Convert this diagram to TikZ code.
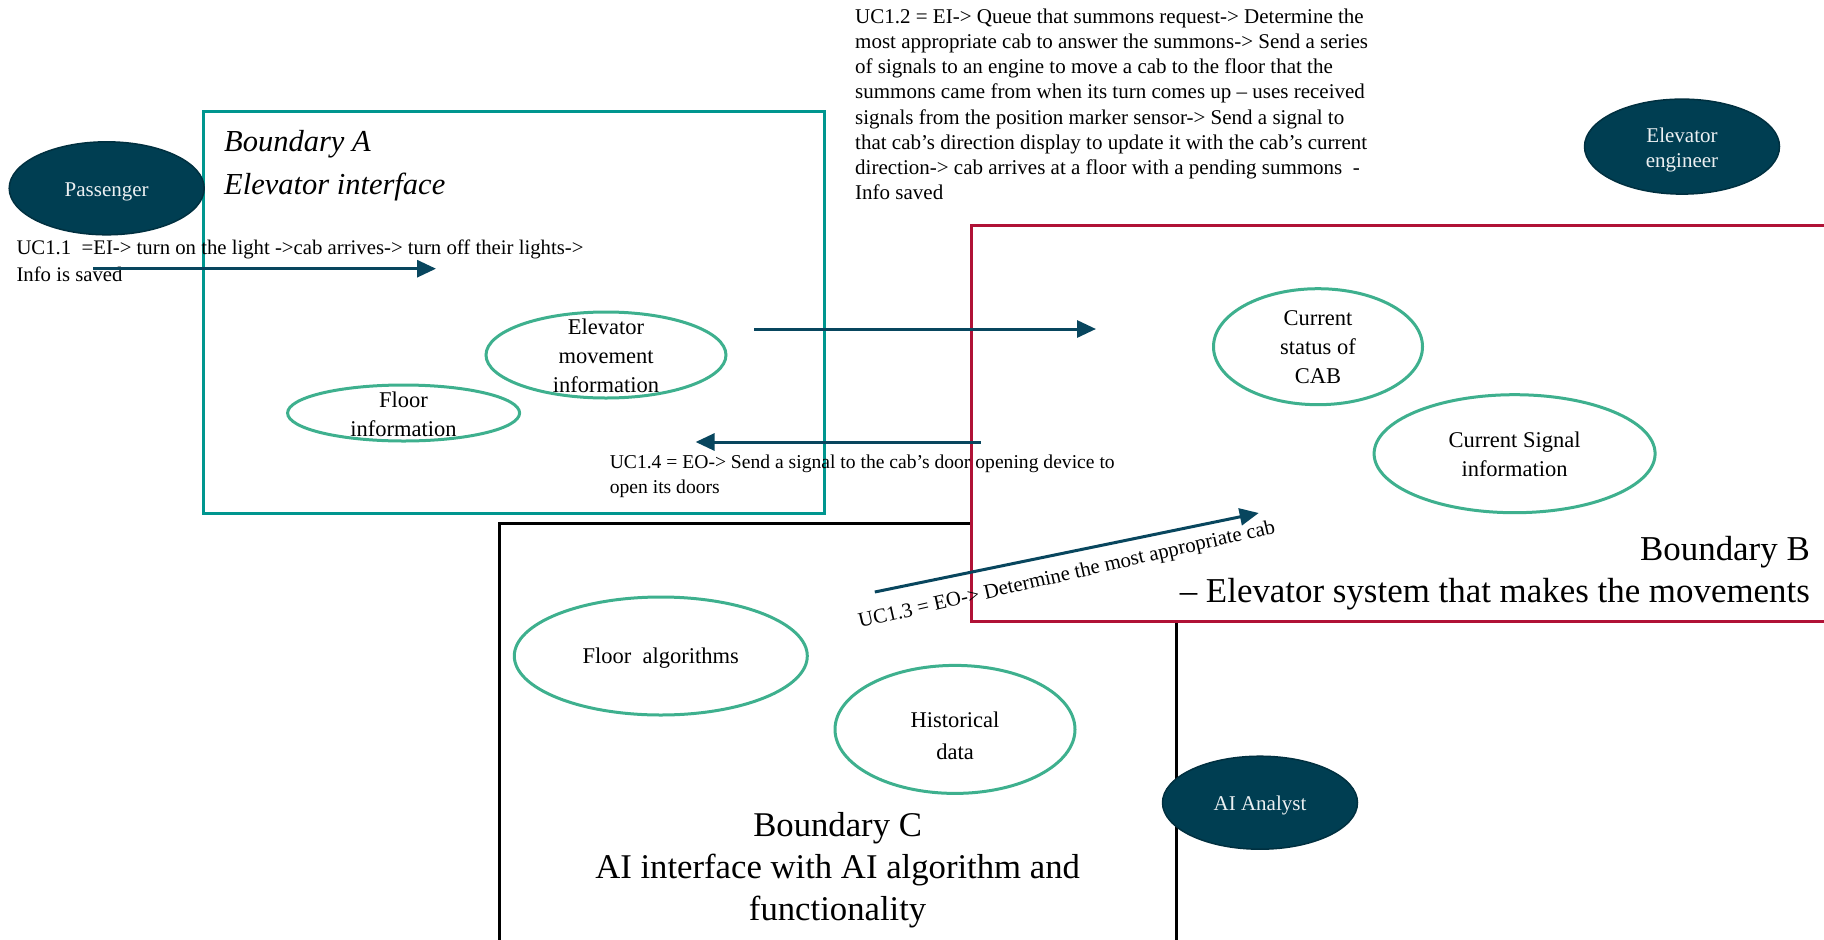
\documentclass[tikz,border=0pt]{standalone}
\usepackage{fontspec}
\setmainfont{Liberation Serif}
\usetikzlibrary{shapes.geometric,arrows.meta}

\definecolor{actorfill}{RGB}{0,62,82}
\definecolor{actorline}{RGB}{0,48,64}
\definecolor{actortext}{RGB}{236,240,242}
\definecolor{bndA}{RGB}{0,150,143}
\definecolor{bndB}{RGB}{176,18,54}
\definecolor{ucgreen}{RGB}{62,176,142}
\definecolor{flowcol}{RGB}{8,70,94}

\newcommand\setfs[2]{\fontsize{#1pt}{#2pt}\selectfont}

\begin{document}
\begin{tikzpicture}[x=1pt,y=-1pt,
  actor/.style={ellipse, fill=actorfill, draw=actorline, line width=1.5pt, inner sep=0pt},
  actortext/.style={inner sep=0pt, text=actortext, align=center, font=\setfs{21}{25.6}},
  usecase/.style={ellipse, draw=ucgreen, line width=3pt, inner sep=0pt},
  uctext/.style={inner sep=0pt, align=center, font=\setfs{22.5}{29}},
  note/.style={inner sep=0pt, align=left},
  flow/.style={draw=flowcol, line width=3pt, -{Triangle[length=19pt,width=17pt]}},
  boundaryA/.style={draw=bndA, line width=3pt},
  boundaryB/.style={draw=bndB, line width=3pt, fill=white},
  boundaryC/.style={draw=black, line width=3pt}]

\useasboundingbox (0,0) rectangle (1824,940);

% system boundaries
\draw[boundaryC] (499,523.5) rectangle (1176,960);
\draw[boundaryB] (971,225.7) rectangle (1840,621);
\draw[boundaryA] (203.6,111.7) rectangle (824.8,513);

% boundary titles
\node[note, anchor=north west, font=\itshape\setfs{30.5}{43}] (titleA) at (224,130)
  {Boundary A\\Elevator interface};
\node[inner sep=0pt, align=right, anchor=north east, font=\setfs{34.9}{42}] (titleB) at (1810,536)
  {Boundary B\\– Elevator system that makes the movements};
\node[inner sep=0pt, align=center, anchor=north, font=\setfs{34.7}{42}] (titleC) at (837.6,812)
  {Boundary C\\AI interface with AI algorithm and\\functionality};

% actors
\node[actor, minimum width=195pt, minimum height=93pt] (passenger) at (106.7,188.3) {};
\node[actortext] (passenger-t) at (106.7,192.3) {Passenger};
\node[actor, minimum width=195pt, minimum height=95pt] (engineer) at (1682,146.6) {};
\node[actortext] (engineer-t) at (1682,150.1) {Elevator\\engineer};
\node[actor, minimum width=195pt, minimum height=93pt] (analyst) at (1260,802.7) {};
\node[actortext] (analyst-t) at (1260,805.2) {AI Analyst};

% use cases, boundary A
\node[usecase, minimum width=240pt, minimum height=86pt] (movement) at (606,355) {};
\node[uctext] (movement-t) at (606,355.7) {Elevator\\movement\\information};
\node[usecase, minimum width=232pt, minimum height=56pt] (floorinfo) at (403.6,413) {};
\node[uctext] (floorinfo-t) at (403.6,414.7) {Floor\\information};

% use cases, boundary B
\node[usecase, minimum width=209pt, minimum height=116pt] (cabstatus) at (1318,346.7) {};
\node[uctext] (cabstatus-t) at (1318,346.7) {Current\\status of\\CAB};
\node[usecase, minimum width=281pt, minimum height=118pt] (signal) at (1514.6,453.7) {};
\node[uctext] (signal-t) at (1514.6,454.7) {Current Signal\\information};

% use cases, boundary C
\node[usecase, minimum width=293pt, minimum height=118pt] (floorAlg) at (660.8,656) {};
\node[uctext] (floorAlg-t) at (660.8,658) {Floor\ \ algorithms};
\node[usecase, minimum width=240pt, minimum height=128pt] (history) at (955,729.4) {};
\node[uctext, font=\setfs{22.5}{31.5}] (history-t) at (955,735.7) {Historical\\data};

% use case descriptions
\node[note, anchor=north west, font=\setfs{20.75}{26.7}] (uc11) at (16.3,240)
  {UC1.1\ \ =EI-> turn on the light ->cab arrives-> turn off their lights->\\Info is saved};
\node[note, anchor=north west, font=\setfs{21}{25.2}] (uc12) at (855,8.5)
  {UC1.2 = EI-> Queue that summons request-> Determine the\\
   most appropriate cab to answer the summons-> Send a series\\
   of signals to an engine to move a cab to the floor that the\\
   summons came from when its turn comes up – uses received\\
   signals from the position marker sensor-> Send a signal to\\
   that cab’s direction display to update it with the cab’s current\\
   direction-> cab arrives at a floor with a pending summons \ -\\
   Info saved};
\node[note, anchor=north west, font=\setfs{19.6}{24.4}] (uc14) at (609.6,455)
  {UC1.4 = EO-> Send a signal to the cab’s door opening device to\\open its doors};
\node[inner sep=0pt, anchor=base west, rotate=12.9, font=\setfs{20.8}{25}] (uc13) at (860,628)
  {UC1.3 = EO-> Determine the most appropriate cab};

% message flows
\coordinate (f1s) at (93,268.7);   \coordinate (f1e) at (436,268.7);
\coordinate (f2s) at (754,329);    \coordinate (f2e) at (1096,329);
\coordinate (f3s) at (874.8,592);  \coordinate (f3e) at (1258.7,513);
\coordinate (f4s) at (980.7,442);  \coordinate (f4e) at (695.6,442);
\draw[flow] (f1s) -- (f1e);
\draw[flow] (f2s) -- (f2e);
\draw[flow] (f3s) -- (f3e);
\draw[flow] (f4s) -- (f4e);
\end{tikzpicture}
\end{document}
